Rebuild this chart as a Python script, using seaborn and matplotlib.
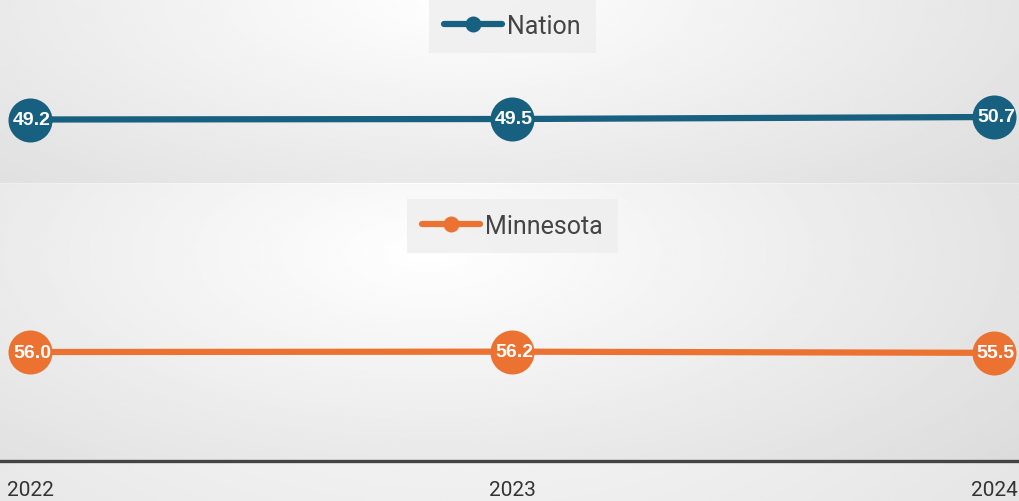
import numpy as np
import pandas as pd
import matplotlib.pyplot as plt
from matplotlib.lines import Line2D
import seaborn as sns

years = [2022, 2023, 2024]
nation = [49.2, 49.5, 50.7]
minnesota = [56.0, 56.2, 55.5]
series_names = ["Nation", "Minnesota"]
series_values = [nation, minnesota]
series_colors = ["#17607f", "#ec7232"]

sns.set_style("white")
plt.rcParams["font.family"] = ["Roboto", "DejaVu Sans"]

W, H = 1019, 502
fig = plt.figure(figsize=(W / 100, H / 100), dpi=100)


def backdrop(rect, cx, cy, rx, ry, lo):
    bg = fig.add_axes(rect, zorder=0)
    xx, yy = np.meshgrid(np.linspace(0, 1, 300), np.linspace(0, 1, 300))
    d = np.sqrt(((xx - cx) / rx) ** 2 + ((yy - cy) / ry) ** 2)
    g = 1 - (1 - lo) * np.clip(d, 0, 1)
    bg.imshow(g, cmap="gray", vmin=0, vmax=1, extent=[0, 1, 0, 1],
              origin="lower", aspect="auto", interpolation="bilinear")
    bg.set_axis_off()
    return bg


# whole figure + each panel get a soft radial gradient
backdrop([0, 0, 1, 1], 0.45, 0.6, 0.9, 1.2, 0.87)
top_rect = [0, (H - 184) / H, 1, 184 / H]
bot_rect = [0, (H - 462) / H, 1, 277 / H]
backdrop(top_rect, 0.45, 1.0, 0.75, 1.6, 0.86)
backdrop(bot_rect, 0.42, 0.75, 0.75, 1.2, 0.86)

ax_top = fig.add_axes(top_rect, zorder=2)
ax_bot = fig.add_axes(bot_rect, zorder=2)

px_per_unit = 1.67
xlim = (2022 - 30 / 482, 2024 + 25 / 482)
ylims = [
    (49.2 - (184 - 120.5) / px_per_unit, 49.2 + 120.5 / px_per_unit),
    (56.0 - (462 - 353) / px_per_unit, 56.0 + (353 - 185) / px_per_unit),
]
legend_y = [1.0, 1 - 15 / 277]

for ax, name, vals, color, ylim, ly in zip([ax_top, ax_bot], series_names, series_values,
                                         series_colors, ylims, legend_y):
    df = pd.DataFrame({"year": years, "value": vals})
    ax.patch.set_alpha(0)
    sns.lineplot(data=df, x="year", y="value", color=color, linewidth=4.5,
                 marker="o", markersize=31.7, markeredgewidth=0, ax=ax,
                 clip_on=False)
    for x, v in zip(years, vals):
        ax.text(x + 0.004, v, f"{v:.1f}", ha="center", va="center", color="white",
                fontweight="bold", fontsize=14, family=["Liberation Sans", "DejaVu Sans"],
                zorder=5)
    ax.set_xlim(*xlim)
    ax.set_ylim(*ylim)
    ax.set_xlabel(None)
    ax.set_ylabel(None)
    ax.set_yticks([])
    handle = Line2D([0], [0], color=color, lw=4.5, marker="o", markersize=11.5,
                    markeredgewidth=0)
    leg = ax.legend([handle], [name], loc="upper center", bbox_to_anchor=(0.503, ly),
                    fontsize=18, handlelength=2.3, handletextpad=0.2, borderpad=0.6,
                    frameon=True, fancybox=False, borderaxespad=0)
    leg.get_frame().set_facecolor("#eeeeee")
    leg.get_frame().set_edgecolor("none")
    leg.get_frame().set_alpha(0.8)
    for t in leg.get_texts():
        t.set_color("#444444")
    for s in ax.spines.values():
        s.set_visible(False)

ax_top.set_xticks([])
ax_bot.set_xticks(years)
ax_bot.set_xticklabels([str(y) for y in years], fontsize=15, color="#333333")
ax_bot.tick_params(axis="x", length=0, pad=14)
ax_bot.spines["bottom"].set_visible(True)
ax_bot.spines["bottom"].set_color("#444444")
ax_bot.spines["bottom"].set_linewidth(2.4)

fig.savefig("out.png", dpi=100)
